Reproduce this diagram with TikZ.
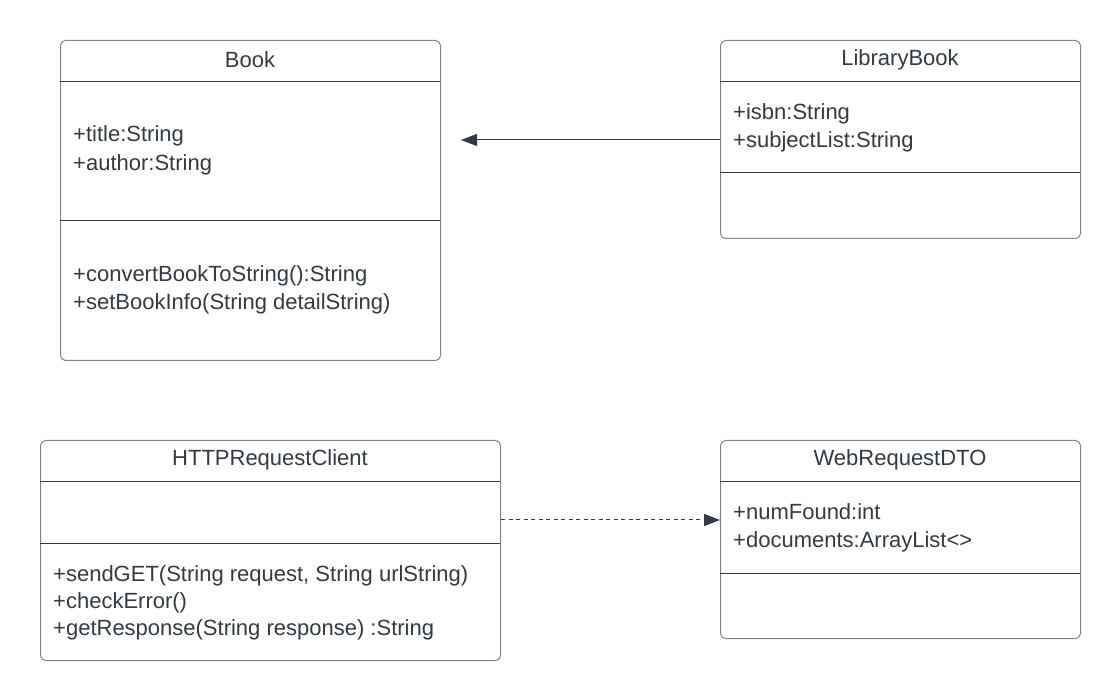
\documentclass[tikz,border=0pt]{standalone}
\usepackage{fontspec}
\setmainfont{Liberation Sans}
\usetikzlibrary{arrows.meta}
\definecolor{ink}{HTML}{333A44}
\definecolor{frame}{HTML}{7F848B}
\tikzset{
  classbox/.style={draw=frame, line width=1pt, rounded corners=5pt, fill=none, inner sep=0pt, anchor=north west},
  sep/.style={draw=ink, line width=1pt},
  title/.style={text=ink, font=\fontsize{22}{26}\selectfont, anchor=center, inner sep=0pt},
  member/.style={text=ink, font=\fontsize{22}{28.5}\selectfont, anchor=west, inner sep=0pt, align=left},
  conn/.style={draw=ink, line width=1pt, -{Triangle[length=16pt,width=12pt]}},
}
\begin{document}
\begin{tikzpicture}[x=1pt,y=-1pt]
\useasboundingbox (0,0) rectangle (1120,700);
% Book
\node[classbox, minimum width=380pt, minimum height=320pt] (book) at (60,40) {};
\draw[sep] (60,82) -- (440,82);
\draw[sep] (60,221) -- (440,221);
\node[title] (bookT) at (250,60) {Book};
\node[member] (bookA) at (73,150.5) {+title:String\\+author:String};
\node[member] (bookM) at (73,290) {+convertBookToString():String\\+setBookInfo(String detailString)};
% LibraryBook
\node[classbox, minimum width=360pt, minimum height=198pt] (lib) at (720,40) {};
\draw[sep] (720,82) -- (1080,82);
\draw[sep] (720,173) -- (1080,173);
\node[title] (libT) at (900,60) {LibraryBook};
\node[member] (libA) at (733,128) {+isbn:String\\+subjectList:String};
% HTTPRequestClient
\node[classbox, minimum width=460pt, minimum height=220pt] (http) at (40,440) {};
\draw[sep] (40,482) -- (500,482);
\draw[sep] (40,544) -- (500,544);
\node[title] (httpT) at (270,460) {HTTPRequestClient};
\node[member, font=\fontsize{22}{27}\selectfont] (httpM) at (53,603) {+sendGET(String request, String urlString)\\+checkError()\\+getResponse(String response) :String};
% WebRequestDTO
\node[classbox, minimum width=360pt, minimum height=198pt] (dto) at (720,440) {};
\draw[sep] (720,482) -- (1080,482);
\draw[sep] (720,573) -- (1080,573);
\node[title] (dtoT) at (900,460) {WebRequestDTO};
\node[member] (dtoA) at (733,528) {+numFound:int\\+documents:ArrayList<>};
% connectors
\coordinate (bookIn) at (461,140);
\draw[conn] (lib.west |- bookIn) -- (bookIn);
\draw[conn, dashed, dash pattern=on 4pt off 3.5pt] (http.east |- 0,520) -- (dto.west |- 0,520);
\end{tikzpicture}
\end{document}
